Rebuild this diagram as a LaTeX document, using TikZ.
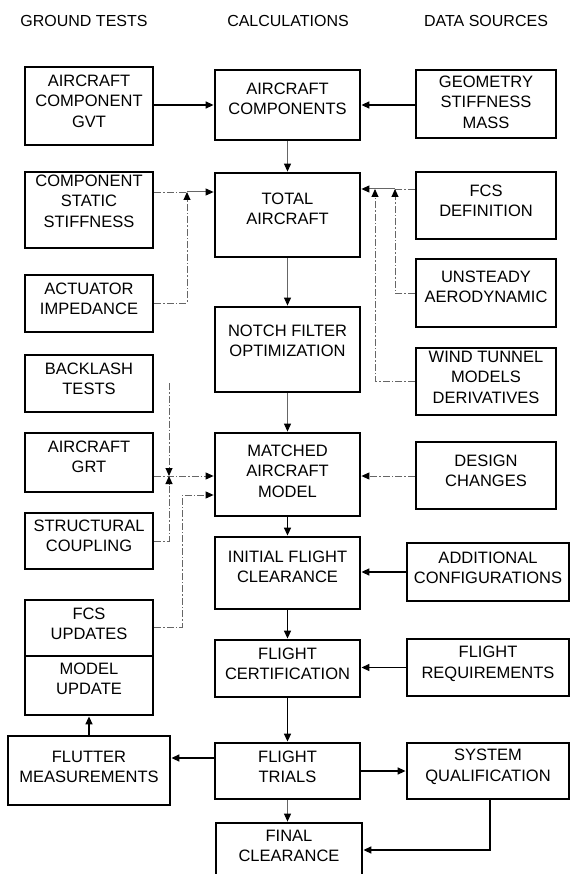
\documentclass[tikz,border=0pt]{standalone}
\usepackage{fontspec}
\setmainfont{Liberation Sans}
\usetikzlibrary{arrows.meta}
\newcommand\bx[7]{%
  \node[bx, minimum width={#4pt-#2pt}, minimum height={#5pt-#3pt}] (#1) at ({(#2+#4)/2},{(#3+#5)/2}) {};
  \node[lbl] (#1-t) at ({(#2+#4)/2},#6) {#7};}
\begin{document}
\begin{tikzpicture}[x=1pt,y=-1pt,
  bx/.style={draw=black, line width=2.8pt, inner sep=0pt, rectangle},
  lbl/.style={align=center, inner sep=0pt, font=\fontsize{16.5}{20.5}\selectfont},
  hdr/.style={anchor=base, inner sep=0pt, font=\fontsize{16}{19}\selectfont},
  tip/.style={-{Triangle[length=8pt,width=7pt,color=black]}},
  solidc/.style={draw=black, line width=1.4pt},
  grayc/.style={draw=black!60, line width=1pt},
  ddc/.style={draw=black!60, line width=0.9pt, dash pattern=on 7pt off 2pt on 1.5pt off 2pt},
]
\useasboundingbox (0,0) rectangle (571,874);
\fill[white] (0,0) rectangle (571,874);

% headers
\node[hdr] (h1) at (84,27) {GROUND TESTS};
\node[hdr] (h2) at (288,27) {CALCULATIONS};
\node[hdr] (h3) at (486,27) {DATA SOURCES};

% boxes
\bx{gvt}{25}{67}{153}{145}{101}{AIRCRAFT\\COMPONENT\\GVT}
\bx{comp}{215}{70}{360}{140}{99}{AIRCRAFT\\COMPONENTS}
\bx{geo}{416}{70}{556}{138}{102}{GEOMETRY\\STIFFNESS\\MASS}
\bx{stat}{25}{172}{153}{248}{201}{COMPONENT\\STATIC\\STIFFNESS}
\bx{total}{215}{173}{360}{257}{209}{TOTAL\\AIRCRAFT}
\bx{fcsd}{416}{172}{556}{239}{201}{FCS\\DEFINITION}
\bx{act}{25}{275}{153}{332}{299}{ACTUATOR\\IMPEDANCE}
\bx{unst}{416}{259}{556}{327}{287}{UNSTEADY\\AERODYNAMIC}
\bx{notch}{215}{307}{360}{392}{341}{NOTCH FILTER\\OPTIMIZATION}
\bx{back}{25}{355}{153}{412}{379}{BACKLASH\\TESTS}
\bx{wind}{416}{348}{556}{415}{377}{WIND TUNNEL\\MODELS\\DERIVATIVES}
\bx{grt}{25}{433}{153}{492}{457}{AIRCRAFT\\GRT}
\bx{match}{215}{433}{360}{516}{471}{MATCHED\\AIRCRAFT\\MODEL}
\bx{design}{416}{442}{556}{509}{471}{DESIGN\\CHANGES}
\bx{struct}{25}{513}{153}{569}{536}{STRUCTURAL\\COUPLING}
\bx{init}{215}{537}{360}{609}{567}{INITIAL FLIGHT\\CLEARANCE}
\bx{addc}{407}{543}{569}{601}{568}{ADDITIONAL\\CONFIGURATIONS}
\bx{fcsu}{25}{600}{153}{656}{624}{FCS\\UPDATES}
\bx{model}{25}{656}{153}{715}{679}{MODEL\\UPDATE}
\bx{cert}{215}{640}{360}{697}{664}{FLIGHT\\CERTIFICATION}
\bx{req}{407}{639}{569}{696}{664}{FLIGHT\\REQUIREMENTS}
\bx{flut}{8}{736}{170}{805}{767}{FLUTTER\\MEASUREMENTS}
\bx{trials}{215}{743}{360}{799}{767}{FLIGHT\\TRIALS}
\bx{sys}{407}{743}{569}{799}{767}{SYSTEM\\QUALIFICATION}
\bx{final}{216}{823}{362}{890}{846}{FINAL\\CLEARANCE}

% junction coordinates
\coordinate (jT) at (288,105);
\coordinate (jL) at (187,192);
\coordinate (jA) at (187,303);
\coordinate (jR1) at (395,189);
\coordinate (jR2) at (375,189);
\coordinate (jU) at (395,293);
\coordinate (jW) at (375,381);
\coordinate (bTop) at (169,383);
\coordinate (bMid) at (169,476);
\coordinate (jS) at (169,541);
\coordinate (jF1) at (182,627);
\coordinate (jF2) at (182,495);
\coordinate (jFl) at (190,758);
\coordinate (jSys) at (490,850);

% top row
\draw[solidc,tip] (gvt.east |- jT) -- (comp.west |- jT);
\draw[solidc,tip] (geo.west |- jT) -- (comp.east |- jT);
\draw[grayc,tip] (comp.south) -- (total.north);

% into total aircraft
\draw[ddc] (stat.east |- jL) -- (jL);
\draw[grayc,tip] (jL) -- (total.west |- jL);
\draw[ddc,tip] (act.east |- jA) -- (jA) -- (jL);
\draw[ddc] (fcsd.west |- jR1) -- (jR1);
\draw[grayc,tip] (jR1) -- (total.east |- jR1);
\draw[ddc,tip] (unst.west |- jU) -- (jU) -- (jR1);
\draw[ddc,tip] (wind.west |- jW) -- (jW) -- (jR2);

\draw[grayc,tip] (total.south) -- (notch.north);
\draw[grayc,tip] (notch.south) -- (match.north);

% into matched model
\draw[ddc,tip] (bTop) -- (bMid);
\draw[ddc,tip] (grt.east |- bMid) -- (match.west |- bMid);
\draw[ddc,tip] (struct.east |- jS) -- (jS) -- (bMid);
\draw[ddc,tip] (fcsu.east |- jF1) -- (jF1) -- (jF2) -- (match.west |- jF2);
\draw[ddc,tip] (design.west |- bMid) -- (match.east |- bMid);

% lower chain
\draw[solidc,tip] (match.south) -- (init.north);
\draw[solidc,tip] (addc.west) -- (init.east |- addc.west);
\draw[solidc,tip] (init.south) -- (cert.north);
\draw[solidc,tip] (req.west) -- (cert.east |- req.west);
\draw[solidc,tip] (cert.south) -- (trials.north);
\draw[solidc,tip] (trials.west |- jFl) -- (flut.east |- jFl);
\draw[solidc,tip] (flut.north) -- (model.south);
\draw[solidc,tip] (trials.east) -- (sys.west);
\draw[grayc,tip] (trials.south) -- (trials.south |- final.north);
\draw[solidc,tip] (sys.south -| jSys) -- (jSys) -- (final.east |- jSys);
\end{tikzpicture}
\end{document}
